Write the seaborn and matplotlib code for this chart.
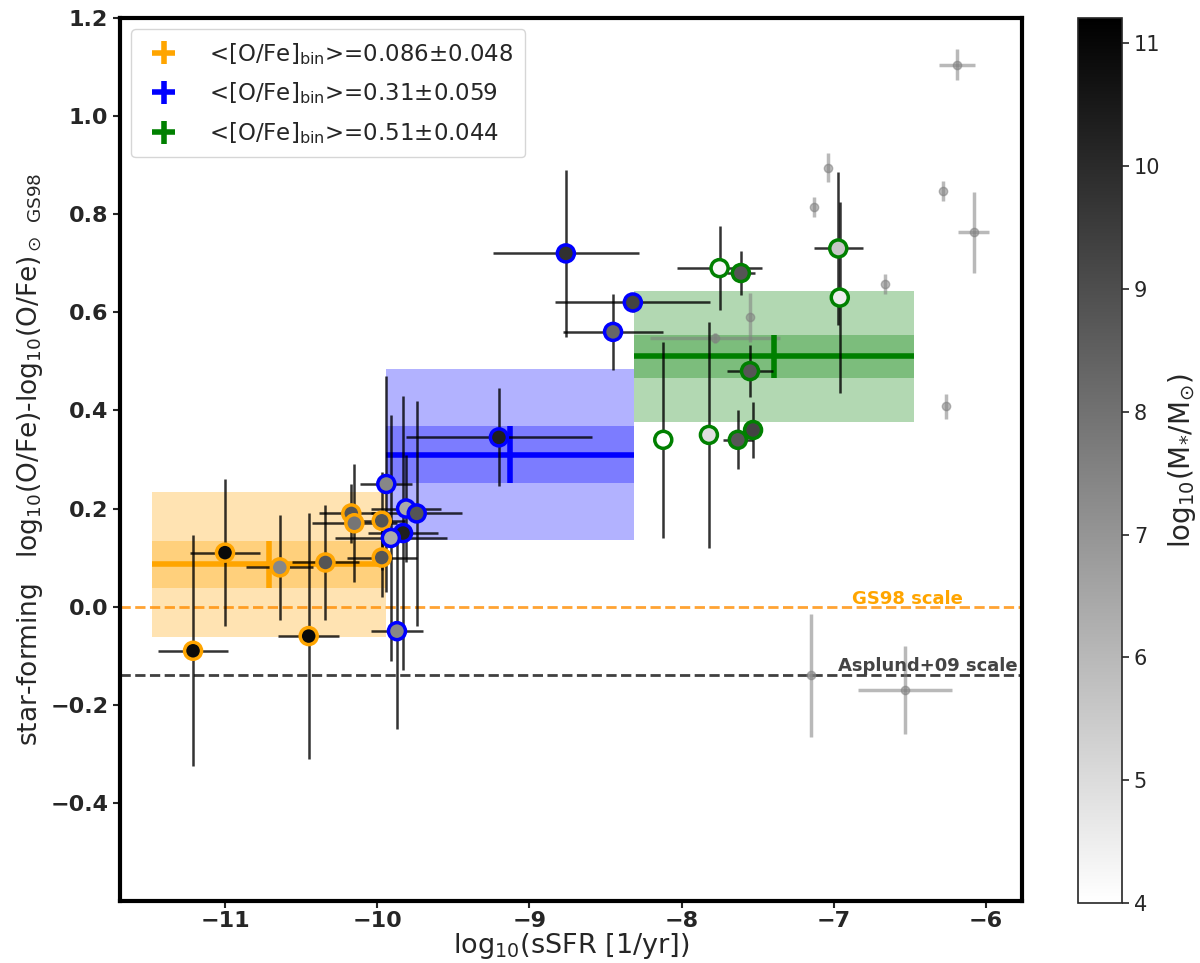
import numpy as np
import pandas as pd
import matplotlib
matplotlib.use("Agg")
import matplotlib.pyplot as plt
import seaborn as sns
from matplotlib.colors import Normalize
from matplotlib.cm import ScalarMappable

# ---------------- data ----------------
# low-sSFR bin (orange edges)
low_ssfr = [-11.21, -11.00, -10.64, -10.45, -10.34, -10.17, -10.15, -9.97, -9.97]
low_ofe = [-0.09, 0.11, 0.08, -0.06, 0.09, 0.19, 0.17, 0.175, 0.10]
low_xerr = [0.23, 0.23, 0.22, 0.20, 0.22, 0.21, 0.28, 0.15, 0.23]
low_yerr = [0.235, 0.15, 0.107, 0.25, 0.117, 0.06, 0.12, 0.10, 0.08]
low_mass = [10.9, 10.9, 7.4, 10.9, 8.8, 8.8, 7.9, 8.8, 8.8]

# mid-sSFR bin (blue edges)
mid_ssfr = [-9.94, -9.81, -9.74, -9.83, -9.91, -9.87, -9.20, -8.76, -8.32, -8.45]
mid_ofe = [0.25, 0.20, 0.19, 0.15, 0.14, -0.05, 0.345, 0.72, 0.62, 0.56]
mid_xerr = [0.17, 0.23, 0.30, 0.23, 0.37, 0.17, 0.61, 0.48, 0.51, 0.33]
mid_yerr = [0.22, 0.11, 0.23, 0.28, 0.25, 0.20, 0.10, 0.17, 0.02, 0.077]
mid_mass = [7.4, 6.4, 8.8, 10.3, 6.4, 7.4, 10.3, 9.8, 9.3, 8.3]

# high-sSFR bin (green edges)
high_ssfr = [-7.75, -8.12, -7.82, -7.61, -6.97, -6.96, -7.55, -7.53, -7.63]
high_ofe = [0.69, 0.34, 0.35, 0.68, 0.73, 0.63, 0.48, 0.36, 0.34]
high_xerr = [0.28, 0.0, 0.0, 0.09, 0.16, 0.0, 0.15, 0.05, 0.10]
high_yerr = [0.085, 0.20, 0.23, 0.045, 0.155, 0.195, 0.053, 0.058, 0.06]
high_mass = [4.2, 4.0, 4.9, 8.8, 5.6, 4.5, 8.8, 9.3, 8.8]

# background (grey) objects
bg_ssfr = [-6.19, -7.04, -7.13, -6.28, -6.08, -6.66, -6.26, -7.78, -7.55, -7.15, -6.53]
bg_ofe = [1.105, 0.895, 0.815, 0.847, 0.763, 0.658, 0.408, 0.548, 0.59, -0.14, -0.17]
bg_xerr = [0.12, 0.0, 0.0, 0.0, 0.10, 0.0, 0.0, 0.43, 0.0, 0.03, 0.31]
bg_yerr = [0.032, 0.03, 0.02, 0.02, 0.082, 0.02, 0.025, 0.01, 0.05, 0.125, 0.09]

# bins
bin_edges = [-11.48, -9.94, -8.31, -6.47]
bin_mean = [0.086, 0.31, 0.51]
bin_err = [0.048, 0.059, 0.044]
bin_spread = [0.148, 0.175, 0.133]
bin_colors = ["orange", "blue", "green"]
bin_labels = ["0.086\u00b10.048", "0.31\u00b10.059", "0.51\u00b10.044"]

gs98_level = 0.0
asplund_level = -0.14

xlim = (-11.69, -5.76)
ylim = (-0.6, 1.2)
mass_lim = (4.0, 11.2)

# ---------------- plot ----------------
sns.set_style("ticks")
plt.rcParams["font.family"] = ["DejaVu Sans"]
plt.rcParams["mathtext.fontset"] = "dejavusans"

fig = plt.figure(figsize=(12, 9.63), dpi=100)
ax = fig.add_axes([0.100, 0.0644, 0.752, 0.917])
cax = fig.add_axes([0.898, 0.062, 0.037, 0.919])

# bin bands
for i in range(3):
    x0, x1 = bin_edges[i], bin_edges[i + 1]
    c = bin_colors[i]
    ax.fill_between([x0, x1], bin_mean[i] - bin_spread[i], bin_mean[i] + bin_spread[i],
                    color=c, alpha=0.3, lw=0, zorder=1)
    ax.fill_between([x0, x1], bin_mean[i] - bin_err[i], bin_mean[i] + bin_err[i],
                    color=c, alpha=0.3, lw=0, zorder=1)

# reference scale lines
ax.axhline(gs98_level, color="darkorange", ls="--", lw=2, alpha=0.8, zorder=2)
ax.axhline(asplund_level, color="k", ls="--", lw=2, alpha=0.75, zorder=2)
ax.text(-6.88, gs98_level + 0.006, "GS98 scale", color="orange", fontsize=13,
        fontweight="bold", va="baseline", ha="left", zorder=6)
ax.text(-6.97, asplund_level + 0.008, "Asplund+09 scale", color="#444444", fontsize=13,
        fontweight="bold", va="baseline", ha="left", zorder=6)

# background objects
ax.errorbar(bg_ssfr, bg_ofe, xerr=bg_xerr, yerr=bg_yerr, fmt="o", color="gray",
            alpha=0.55, ms=6, elinewidth=2.5, capsize=0, zorder=3)

# bin mean crosses
for i in range(3):
    xc = 0.5 * (bin_edges[i] + bin_edges[i + 1])
    hw = 0.5 * (bin_edges[i + 1] - bin_edges[i])
    ax.errorbar(xc, bin_mean[i], xerr=hw, yerr=bin_err[i], fmt="none",
                ecolor=bin_colors[i], elinewidth=4, capsize=0, zorder=3.5,
                label=r"<[O/Fe]$_{\mathrm{bin}}$>=" + bin_labels[i])

# individual galaxies
groups = [
    (low_ssfr, low_ofe, low_xerr, low_yerr, low_mass, "orange"),
    (mid_ssfr, mid_ofe, mid_xerr, mid_yerr, mid_mass, "blue"),
    (high_ssfr, high_ofe, high_xerr, high_yerr, high_mass, "green"),
]
norm = Normalize(vmin=mass_lim[0], vmax=mass_lim[1])
for xs, ys, xe, ye, ms, ec in groups:
    ax.errorbar(xs, ys, xerr=xe, yerr=ye, fmt="none", ecolor="k", alpha=0.8,
                elinewidth=1.8, capsize=0, zorder=4)
for xs, ys, xe, ye, ms, ec in groups:
    df = pd.DataFrame({"ssfr": xs, "ofe": ys, "mass": ms})
    sns.scatterplot(data=df, x="ssfr", y="ofe", hue="mass", palette="gray_r",
                    hue_norm=norm, s=150, edgecolor=ec, linewidth=2.5,
                    legend=False, ax=ax, zorder=5)

ax.set_xlim(*xlim)
ax.set_ylim(*ylim)
ax.set_xticks([-11, -10, -9, -8, -7, -6])
ax.set_yticks([-0.4, -0.2, 0.0, 0.2, 0.4, 0.6, 0.8, 1.0, 1.2])
ax.set_xticklabels(["\u221211", "\u221210", "\u22129", "\u22128", "\u22127", "\u22126"])
ax.set_yticklabels(["\u22120.4", "\u22120.2", "0.0", "0.2", "0.4", "0.6", "0.8", "1.0", "1.2"])
for lab in ax.get_xticklabels() + ax.get_yticklabels():
    lab.set_fontweight("bold")
    lab.set_fontsize(16)
ax.tick_params(axis="both", which="major", length=5, width=1.5, direction="out")
ax.tick_params(axis="x", pad=2.5)
for sp in ax.spines.values():
    sp.set_linewidth(3)
    sp.set_color("black")
    sp.set_visible(True)

ax.set_xlabel(r"log$_{10}$(sSFR [1/yr])", fontsize=19.5, labelpad=0)
ax.set_ylabel(r"star-forming   log$_{10}$(O/Fe)-log$_{10}$(O/Fe)$_\odot$ $_{\mathrm{GS98}}$",
              fontsize=19, labelpad=4)

leg = ax.legend(loc="upper left", fontsize=16.5, frameon=True, handlelength=1.8,
                borderpad=0.5, labelspacing=0.6, handletextpad=1.1)
leg.get_frame().set_edgecolor("#cccccc")

# colorbar
sm = ScalarMappable(norm=norm, cmap="gray_r")
cb = fig.colorbar(sm, cax=cax)
cb.set_ticks([4, 5, 6, 7, 8, 9, 10, 11])
cb.ax.tick_params(labelsize=15, length=5, width=1.2)
cb.set_label(r"log$_{10}$(M$_{*}$/M$_{\odot}$)", fontsize=20)
cb.outline.set_linewidth(1.2)

fig.savefig("out.png", dpi=100)
